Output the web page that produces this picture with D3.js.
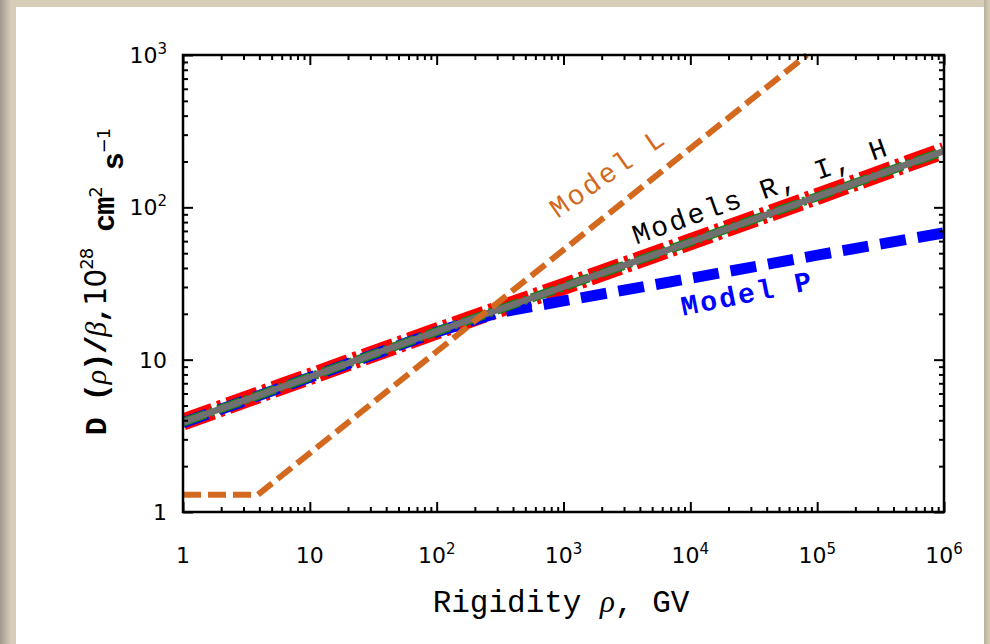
<!DOCTYPE html>
<html>
<head>
<meta charset="utf-8">
<title>Diffusion coefficient models</title>
<script src="https://d3js.org/d3.v7.min.js"></script>
<style>
    body { margin: 0; background: #d8cdb8; }
    svg { display: block; }
    .tick-label { font-family: "DejaVu Sans", sans-serif; font-size: 22px; fill: #000; }
    .mono { font-family: "Liberation Mono", "Courier New", monospace; }
    .greek { font-family: "Liberation Serif", serif; font-style: italic; }
</style>
</head>
<body>
<div id="chart"></div>
<script>
    // rigidity grid (GV) shared by the R, I, H curves
    var rigidity = [1, 10, 1e2, 1e3, 1e4, 1e5, 1e6];
    var modelR = [3.9, 7.75, 15.4, 30.2, 59.5, 118, 236];
    var modelI = [3.88, 7.7, 15.3, 30.1, 59.2, 117.5, 234];
    var modelH = [3.88, 7.7, 15.3, 30.1, 59.2, 117.5, 234];

    // model P breaks near 300 GV
    var rigidityP = [1, 10, 1e2, 3e2, 1e3, 1e4, 1e5, 1e6];
    var modelP = [3.85, 7.65, 15.2, 20.3, 24.3, 34.2, 48.5, 68];

    // model L: flat below ~4 GV then steep
    var rigidityL = [1, 3.9, 8.3e4];
    var modelL = [1.3, 1.3, 1000];

    var xTicks = [1, 10, 1e2, 1e3, 1e4, 1e5, 1e6];
    var yTicks = [1, 10, 1e2, 1e3];

    var width = 990, height = 644;
    var margin = { top: 55, right: 46, bottom: 132, left: 183 };
    var w = width - margin.left - margin.right;
    var h = height - margin.top - margin.bottom;

    var svg = d3.select("#chart").append("svg")
        .attr("width", width)
        .attr("height", height);

    // page frame
    var defs = svg.append("defs");
    var grad = defs.append("linearGradient").attr("id", "leftShade");
    grad.append("stop").attr("offset", "0%").attr("stop-color", "#9f998c");
    grad.append("stop").attr("offset", "100%").attr("stop-color", "#d8cdb8");
    var gradR = defs.append("linearGradient").attr("id", "rightShade");
    gradR.append("stop").attr("offset", "0%").attr("stop-color", "#b9b09f");
    gradR.append("stop").attr("offset", "100%").attr("stop-color", "#d8cdb8");
    svg.append("rect").attr("width", width).attr("height", height).attr("fill", "#d8cdb8");
    svg.append("rect").attr("width", 11).attr("height", height).attr("fill", "url(#leftShade)");
    svg.append("rect").attr("x", 984).attr("width", 6).attr("height", height).attr("fill", "url(#rightShade)");
    svg.append("rect").attr("x", 16).attr("y", 7).attr("width", 968).attr("height", height - 7).attr("fill", "#fff");

    defs.append("clipPath").attr("id", "plotClip")
        .append("rect").attr("x", 0).attr("y", -4).attr("width", w).attr("height", h + 4);

    var g = svg.append("g")
        .attr("transform", "translate(" + margin.left + "," + margin.top + ")");

    var x = d3.scaleLog().domain([1, 1e6]).range([0, w]);
    var y = d3.scaleLog().domain([1, 1e3]).range([h, 0]);

    var minorX = [], minorY = [];
    xTicks.slice(0, -1).forEach(function(t) { for (var k = 2; k < 10; k++) minorX.push(t * k); });
    yTicks.slice(0, -1).forEach(function(t) { for (var k = 2; k < 10; k++) minorY.push(t * k); });

    var line = d3.line()
        .x(function(d) { return x(d[0]); })
        .y(function(d) { return y(d[1]); });

    var curves = g.append("g").attr("clip-path", "url(#plotClip)");

    function draw(xs, ys, color, sw, dash) {
        curves.append("path")
            .datum(d3.zip(xs, ys))
            .attr("d", line)
            .attr("fill", "none")
            .attr("stroke", color)
            .attr("stroke-width", sw)
            .attr("stroke-dasharray", dash);
    }

    draw(rigidity, modelR, "#ff0000", 17, "32,6,4,6");
    draw(rigidityP, modelP, "#0000ff", 11, "26,12");
    draw(rigidity, modelI, "#1a7f1a", 9, "24,5,3,5");
    draw(rigidity, modelH, "#707070", 6.5, null);
    draw(rigidityL, modelL, "#d2691e", 6, "18,7");

    // ticks on all four sides, pointing inward
    function ticks(axis, vals, size) {
        return axis.tickValues(vals).tickSize(size).tickFormat("");
    }
    [[d3.axisBottom, "translate(0," + h + ")"], [d3.axisTop, null]].forEach(function(a) {
        var gx = g.append("g").attr("class", "axis");
        if (a[1]) gx.attr("transform", a[1]);
        gx.call(ticks(a[0](x), xTicks, 10));
        var gm = g.append("g").attr("class", "axis");
        if (a[1]) gm.attr("transform", a[1]);
        gm.call(ticks(a[0](x), minorX, 5));
    });
    [[d3.axisLeft, null], [d3.axisRight, "translate(" + w + ",0)"]].forEach(function(a) {
        var gy = g.append("g").attr("class", "axis");
        if (a[1]) gy.attr("transform", a[1]);
        gy.call(ticks(a[0](y), yTicks, 10));
        var gm = g.append("g").attr("class", "axis");
        if (a[1]) gm.attr("transform", a[1]);
        gm.call(ticks(a[0](y), minorY, 5));
    });
    // flip the tick direction inward
    g.selectAll(".axis").each(function() {
        var sel = d3.select(this);
        sel.select(".domain").remove();
        sel.selectAll(".tick line").each(function() {
            var l = d3.select(this);
            ["x2", "y2"].forEach(function(k) {
                var v = +l.attr(k);
                if (v) l.attr(k, -v);
            });
        });
    });
    g.selectAll(".tick line").attr("stroke", "#000").attr("stroke-width", 2);

    g.append("rect")
        .attr("width", w).attr("height", h)
        .attr("fill", "none").attr("stroke", "#000").attr("stroke-width", 2.5);

    function addPow(sel, v) {
        var e = Math.round(Math.log10(v));
        if (e === 0) { sel.text("1"); return; }
        sel.append("tspan").text("10");
        if (e > 1) sel.append("tspan").attr("dy", "-0.6em").attr("font-size", "15px").text(e);
    }

    xTicks.forEach(function(t) {
        var tx = g.append("text").attr("class", "tick-label")
            .attr("x", x(t)).attr("y", h + 51)
            .attr("text-anchor", "middle");
        addPow(tx, t);
    });
    yTicks.forEach(function(t) {
        var ty = g.append("text").attr("class", "tick-label")
            .attr("x", -16).attr("y", y(t) + 8)
            .attr("text-anchor", "end");
        addPow(ty, t);
    });

    // annotations sitting along the curves
    var notes = [
        { text: "Model L", rho: 900, d: 84, angle: -35, color: "#d2691e", weight: "normal" },
        { text: "Models R, I, H", rho: 3740, d: 57, angle: -19.5, color: "#000", weight: "normal" },
        { text: "Model P", rho: 8770, d: 19.4, angle: -11.5, color: "#0000ff", weight: "bold" }
    ];
    notes.forEach(function(n) {
        g.append("text").attr("class", "mono")
            .attr("transform", "translate(" + x(n.rho) + "," + y(n.d) + ") rotate(" + n.angle + ")")
            .attr("font-size", "28px")
            .attr("letter-spacing", "2.5px")
            .attr("font-weight", n.weight)
            .attr("fill", n.color)
            .text(n.text);
    });

    // x axis title
    var xt = svg.append("text").attr("class", "mono")
        .attr("x", 561).attr("y", 612)
        .attr("text-anchor", "middle")
        .attr("font-size", "31px");
    xt.append("tspan").text("Rigidity ");
    xt.append("tspan").attr("class", "greek").text("ρ");
    xt.append("tspan").text(", GV");

    // y axis title
    var yt = svg.append("text")
        .attr("transform", "translate(106,282) rotate(-90)")
        .attr("text-anchor", "middle")
        .attr("font-size", "30px")
        .attr("letter-spacing", "-1px");
    yt.append("tspan").attr("class", "mono").attr("font-weight", "bold").text("D (");
    yt.append("tspan").attr("class", "greek").text("ρ");
    yt.append("tspan").attr("class", "mono").attr("font-weight", "bold").text(")/");
    yt.append("tspan").attr("class", "greek").text("β");
    yt.append("tspan").attr("class", "mono").attr("font-weight", "bold").text(",");
    yt.append("tspan").attr("font-family", "DejaVu Sans").text("10");
    yt.append("tspan").attr("font-family", "DejaVu Sans").attr("font-size", "18px").attr("dy", "-0.7em").text("28");
    yt.append("tspan").attr("class", "mono").attr("font-weight", "bold").attr("dy", "0.7em").text(" cm");
    yt.append("tspan").attr("font-family", "DejaVu Sans").attr("font-size", "18px").attr("dy", "-0.7em").text("2");
    yt.append("tspan").attr("class", "mono").attr("font-weight", "bold").attr("dy", "0.7em").text(" s");
    yt.append("tspan").attr("font-family", "DejaVu Sans").attr("font-size", "18px").attr("dy", "-0.7em").text("−1");
</script>
</body>
</html>
